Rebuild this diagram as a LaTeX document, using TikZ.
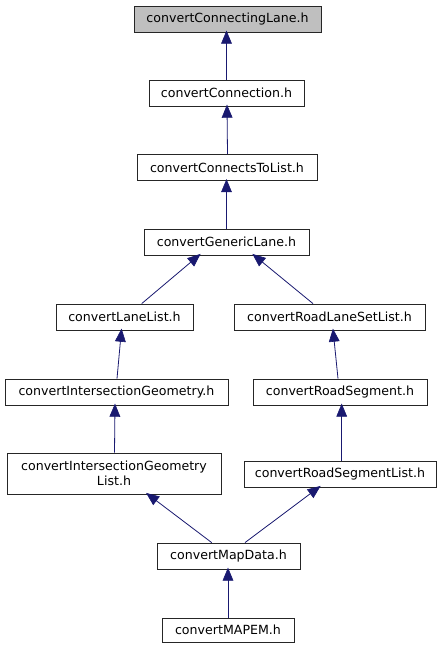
\documentclass[tikz,border=0pt]{standalone}
\usepackage{fontspec}
\setmainfont{DejaVu Sans}
\usetikzlibrary{arrows.meta,calc}
\definecolor{edgeblue}{HTML}{191970}
\definecolor{mainfill}{HTML}{BFBFBF}
\tikzset{
  file/.style={draw=black!85, line width=0.8pt, fill=white, inner sep=0pt, minimum height=26pt,
    font=\fontsize{12.6}{14.5}\selectfont, align=center},
  mainfile/.style={file, fill=mainfill},
  edgeline/.style={draw=edgeblue, line width=0.8pt},
  tiphead/.style={fill=edgeblue, draw=edgeblue, line width=0.6pt, line join=miter},
}
\newcommand{\depedge}[2]{%
  \draw[edgeline] (#1) -- ($(#2)!11pt!(#1)$);
  \filldraw[tiphead] (#2) -- ($(#2)!12pt!(#1)!5pt!90:(#2)$) -- ($(#2)!12pt!(#1)!5pt!-90:(#2)$) -- cycle;
}
\begin{document}
\begin{tikzpicture}[x=1pt,y=-1pt]
\fill[white] (0,0) rectangle (447,649);
\useasboundingbox (0,0) rectangle (447,649);
\node[mainfile, minimum width=187pt] (n1) at (227.5,19) {convertConnectingLane.h};
\node[file, minimum width=155pt] (n2) at (226.5,93) {convertConnection.h};
\node[file, minimum width=180pt] (n3) at (227,167.5) {convertConnectsToList.h};
\node[file, minimum width=165pt] (n4) at (226.5,242) {convertGenericLane.h};
\node[file, minimum width=137pt] (n5) at (124.5,317) {convertLaneList.h};
\node[file, minimum width=191pt] (n6) at (329.5,317) {convertRoadLaneSetList.h};
\node[file, minimum width=223pt] (n7) at (116.5,392) {convertIntersectionGeometry.h};
\node[file, minimum width=174pt] (n8) at (340,392) {convertRoadSegment.h};
\node[file, minimum width=214pt, minimum height=41pt] (n9) at (114,473.5) {convertIntersectionGeometry\\List.h};
\node[file, minimum width=192pt] (n10) at (340,474) {convertRoadSegmentList.h};
\node[file, minimum width=143pt] (n11) at (228.5,556) {convertMapData.h};
\node[file, minimum width=132pt, minimum height=24pt] (n12) at (228,630) {convertMAPEM.h};

\coordinate (e1a) at (n2.north);            \coordinate (e1b) at ([yshift=1pt]n2.north |- n1.south);
\coordinate (e2a) at ([xshift=0.5pt]n3.north); \coordinate (e2b) at ([xshift=0.5pt,yshift=1pt]n2.south);
\coordinate (e3a) at (n4.north);            \coordinate (e3b) at ([yshift=1pt]n4.north |- n3.south);
\coordinate (e4a) at ([xshift=17.2pt]n5.north);  \coordinate (e4b) at ([xshift=-26.5pt,yshift=1pt]n4.south);
\coordinate (e5a) at ([xshift=-16.5pt]n6.north); \coordinate (e5b) at ([xshift=26.5pt,yshift=1pt]n4.south);
\coordinate (e6a) at ([xshift=0.5pt]n7.north);   \coordinate (e6b) at ([xshift=-3pt,yshift=1pt]n5.south);
\coordinate (e7a) at ([xshift=-2pt]n8.north);    \coordinate (e7b) at ([xshift=3.5pt,yshift=1pt]n6.south);
\coordinate (e8a) at ([xshift=0.5pt]n9.north);   \coordinate (e8b) at ([xshift=-1.5pt,yshift=1pt]n7.south);
\coordinate (e9a) at ([xshift=1.7pt]n10.north);  \coordinate (e9b) at ([xshift=1.7pt,yshift=1pt]n8.south);
\coordinate (e10a) at ([xshift=-16.8pt]n11.north); \coordinate (e10b) at ([xshift=32.7pt,yshift=1pt]n9.south);
\coordinate (e11a) at ([xshift=16.5pt]n11.north);  \coordinate (e11b) at ([xshift=-20pt,yshift=1pt]n10.south);
\coordinate (e12a) at (n12.north);          \coordinate (e12b) at ([yshift=1pt]n12.north |- n11.south);

\depedge{e1a}{e1b}
\depedge{e2a}{e2b}
\depedge{e3a}{e3b}
\depedge{e4a}{e4b}
\depedge{e5a}{e5b}
\depedge{e6a}{e6b}
\depedge{e7a}{e7b}
\depedge{e8a}{e8b}
\depedge{e9a}{e9b}
\depedge{e10a}{e10b}
\depedge{e11a}{e11b}
\depedge{e12a}{e12b}
\end{tikzpicture}
\end{document}
